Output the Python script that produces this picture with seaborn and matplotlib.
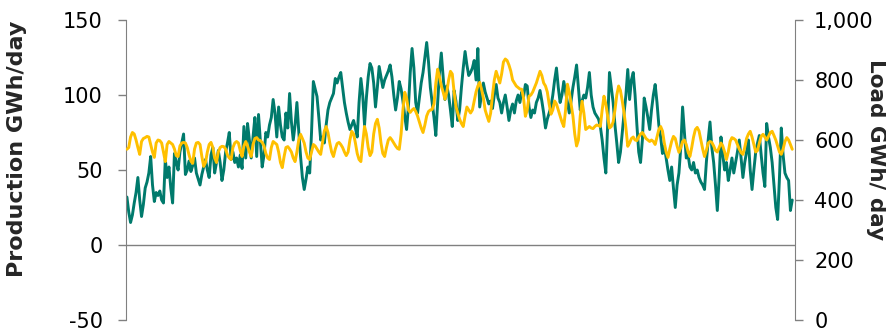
import numpy as np
import pandas as pd
import matplotlib
matplotlib.use("Agg")
import matplotlib.pyplot as plt
import matplotlib.ticker as mticker
import seaborn as sns

# Daily solar production (GWh/day), one value per day of the year
production = [
    32, 22, 15, 20, 28, 35, 45, 30, 19, 27,
    38, 42, 48, 59, 40, 29, 35, 33, 36, 30,
    28, 57, 45, 52, 38, 28, 61, 55, 50, 62,
    68, 74, 47, 50, 56, 49, 53, 58, 48, 44,
    40, 47, 52, 57, 50, 45, 60, 65, 48, 55,
    63, 55, 43, 50, 62, 68, 75, 57, 62, 55,
    58, 52, 60, 51, 79, 58, 81, 70, 58, 72,
    85, 59, 87, 70, 52, 60, 75, 72, 80, 85,
    97, 88, 72, 92, 80, 72, 70, 88, 78, 101,
    82, 70, 80, 95, 76, 59, 45, 37, 44, 52,
    48, 75, 109, 104, 99, 85, 70, 72, 68, 80,
    90, 95, 98, 101, 111, 108, 112, 115, 105, 95,
    88, 82, 77, 80, 83, 78, 72, 95, 111, 100,
    80, 98, 112, 121, 118, 108, 92, 105, 119, 112,
    105, 110, 113, 116, 120, 112, 100, 90, 98, 109,
    104, 96, 86, 77, 92, 115, 131, 118, 95, 88,
    98, 108, 115, 125, 135, 122, 105, 95, 85, 73,
    95, 115, 128, 112, 97, 106, 100, 90, 79, 103,
    96, 83, 90, 105, 118, 129, 120, 113, 115, 118,
    123, 110, 131, 92, 100, 108, 102, 98, 94, 96,
    91, 100, 107, 98, 95, 88, 95, 100, 92, 83,
    90, 94, 88, 96, 100, 95, 102, 99, 107, 106,
    92, 85, 90, 88, 95, 98, 103, 96, 88, 78,
    84, 88, 92, 100, 110, 118, 105, 95, 100, 109,
    102, 95, 88, 96, 105, 112, 120, 105, 90, 96,
    100, 98, 105, 115, 100, 92, 88, 86, 84, 79,
    70, 58, 48, 80, 115, 105, 95, 80, 68, 55,
    62, 75, 88, 100, 117, 97, 110, 115, 100, 80,
    62, 55, 70, 98, 92, 85, 77, 90, 100, 107,
    95, 80, 72, 61, 66, 58, 50, 43, 52, 38,
    25, 40, 48, 65, 92, 75, 58, 60, 52, 50,
    55, 48, 50, 45, 42, 40, 37, 55, 70, 82,
    65, 55, 40, 23, 45, 72, 60, 50, 55, 43,
    50, 58, 48, 55, 62, 70, 58, 45, 55, 62,
    70, 50, 37, 50, 62, 68, 73, 60, 48, 39,
    81, 72, 65, 55, 40, 25, 17, 45, 78, 60,
    48, 45, 43, 23, 30,
]

# Daily electricity load (GWh/day)
load = [
    569, 575, 610, 625, 620, 600, 575, 552, 595, 605,
    608, 612, 610, 585, 560, 542, 590, 600, 598, 590,
    560, 528, 585, 595, 590, 585, 570, 548, 545, 580,
    590, 592, 590, 575, 550, 530, 522, 570, 590, 592,
    585, 545, 512, 525, 560, 585, 592, 575, 540, 525,
    560, 575, 579, 578, 570, 550, 540, 535, 575, 590,
    595, 590, 565, 545, 580, 595, 580, 560, 545, 585,
    605, 608, 600, 598, 592, 580, 555, 540, 535, 575,
    595, 590, 585, 560, 525, 508, 545, 575, 578, 570,
    560, 540, 528, 560, 600, 619, 605, 590, 560, 540,
    535, 560, 585, 580, 570, 560, 552, 590, 630, 645,
    625, 590, 560, 545, 570, 588, 592, 585, 575, 560,
    548, 560, 600, 629, 620, 590, 555, 535, 528, 590,
    645, 620, 575, 548, 560, 620, 655, 669, 640, 590,
    555, 545, 575, 600, 608, 600, 590, 580, 572, 569,
    620, 700, 759, 740, 700, 692, 700, 705, 695, 680,
    660, 640, 625, 650, 680, 695, 700, 702, 720, 790,
    836, 810, 780, 760, 736, 760, 800, 829, 820, 760,
    712, 690, 670, 655, 645, 680, 710, 700, 690, 700,
    730, 760, 780, 792, 770, 740, 700, 680, 662, 690,
    750, 800, 829, 810, 790, 820, 860, 870, 865, 850,
    830, 800, 790, 780, 775, 770, 769, 740, 679, 700,
    746, 750, 760, 775, 790, 810, 829, 815, 790, 780,
    760, 720, 686, 700, 730, 720, 700, 680, 660, 645,
    700, 786, 760, 720, 680, 620, 580, 600, 680, 729,
    690, 635, 640, 645, 640, 638, 645, 650, 648, 645,
    700, 746, 720, 680, 640, 645, 660, 700, 750, 780,
    765, 730, 690, 640, 579, 590, 605, 610, 600, 598,
    610, 620, 625, 615, 605, 600, 595, 600, 595, 585,
    610, 635, 645, 630, 590, 560, 542, 570, 595, 612,
    605, 580, 559, 575, 595, 600, 585, 560, 545, 575,
    610, 635, 642, 630, 600, 570, 545, 565, 590, 595,
    592, 580, 565, 560, 575, 590, 580, 560, 535, 560,
    595, 608, 605, 600, 585, 570, 558, 552, 575, 605,
    620, 629, 610, 585, 560, 565, 590, 612, 619, 610,
    600, 612, 625, 629, 615, 600, 580, 560, 552, 570,
    595, 608, 600, 585, 569,
]

left_ticks = [-50, 0, 50, 100, 150]
right_ticks = [0, 200, 400, 600, 800, 1000]

TEAL = "#007A6C"
GOLD = "#FFC000"
GREY = "#808080"

sns.set_style("white")
plt.rcParams["font.family"] = ["DejaVu Sans"]
plt.rcParams["axes.unicode_minus"] = False

df = pd.DataFrame({
    "day": np.arange(len(production)),
    "production": production,
    "load": load,
})

fig = plt.figure(figsize=(8.87, 3.30), dpi=100)
ax = fig.add_axes([126 / 887, 10 / 330, (795 - 126) / 887, 300 / 330])
ax2 = ax.twinx()

sns.lineplot(data=df, x="day", y="production", ax=ax, color=TEAL,
             linewidth=2.1, legend=False)
sns.lineplot(data=df, x="day", y="load", ax=ax2, color=GOLD,
             linewidth=2.1, legend=False)

ax.axhline(0, color=GREY, linewidth=1.0, zorder=0)

ax.set_xlim(-0.5, 365.5)
ax.set_ylim(-50, 150)
ax2.set_ylim(0, 1000)
ax.set_yticks(left_ticks)
ax2.set_yticks(right_ticks)
ax2.yaxis.set_major_formatter(mticker.StrMethodFormatter("{x:,.0f}"))

ax.set_xticks([])
ax.set_xlabel("")
ax2.set_xlabel("")

for a in (ax, ax2):
    a.spines["top"].set_visible(False)
    a.spines["bottom"].set_visible(False)
    a.tick_params(axis="y", length=5.8, width=1.0, color=GREY,
                  labelsize=15, labelcolor="black", direction="out")
ax.spines["left"].set_color(GREY)
ax.spines["right"].set_visible(False)
ax2.spines["left"].set_visible(False)
ax2.spines["right"].set_color(GREY)
ax.tick_params(axis="y", left=True, right=False, pad=11)
ax2.tick_params(axis="y", right=True, left=False, pad=8)

ax.set_ylabel("Production GWh/day", fontsize=16, fontweight="bold")
ax.yaxis.set_label_coords(-0.148, 0.572)
ax2.set_ylabel("Load GWh/ day", fontsize=15.5, fontweight="bold",
               rotation=-90, va="center")
ax2.yaxis.set_label_coords(1.121, 0.567)

fig.savefig("out.png", dpi=100)
